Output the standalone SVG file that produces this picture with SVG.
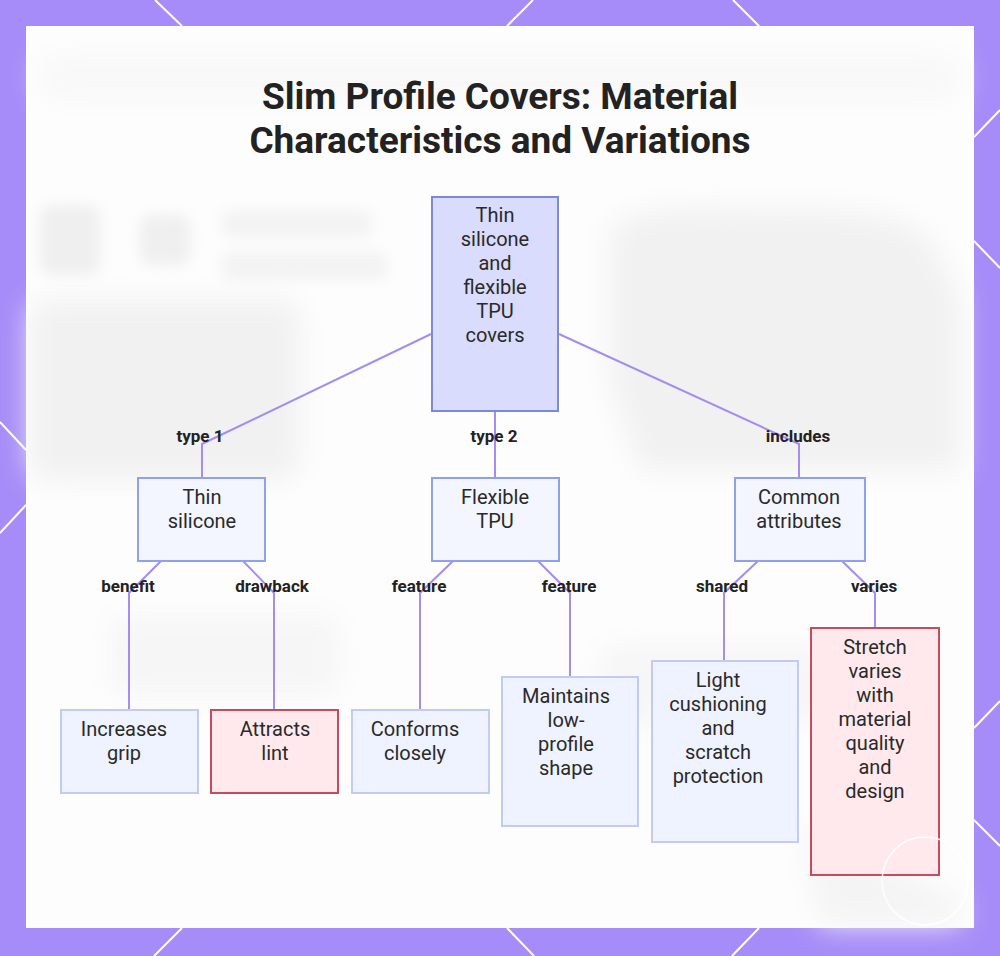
<svg xmlns="http://www.w3.org/2000/svg" width="1000" height="956" viewBox="0 0 1000 956">
  <defs>
    <filter id="blur" x="-30%" y="-30%" width="160%" height="160%">
      <feGaussianBlur stdDeviation="14"/>
    </filter>
    <filter id="blur2" x="-30%" y="-30%" width="160%" height="160%">
      <feGaussianBlur stdDeviation="7"/>
    </filter>
    <style>
      .frame-line { stroke: #ffffff; stroke-width: 2; fill: none; }
      .title { font-family: Roboto, "Liberation Sans", sans-serif; font-weight: 700; font-size: 37px; fill: #222222; text-anchor: middle; }
      .node-main rect { fill: #d9dcfc; stroke: #7c88d8; stroke-width: 2; }
      .node-mid rect { fill: #f3f5ff; stroke: #8fa0ec; stroke-width: 2; }
      .node-leaf rect { fill: #eff2ff; stroke: #c3cbf4; stroke-width: 2; }
      .node-warn rect { fill: #ffe9ed; stroke: #c84a5c; stroke-width: 2; }
      .node text { font-family: Roboto, "Liberation Sans", sans-serif; font-size: 20px; fill: #2a2a2a; text-anchor: middle; dominant-baseline: central; }
      .edge { stroke: #a58df0; stroke-width: 2; fill: none; }
      .elabel { font-family: Roboto, "Liberation Sans", sans-serif; font-weight: 700; font-size: 17px; fill: #222222; text-anchor: middle; dominant-baseline: central; }
    </style>
  </defs>

  <!-- purple frame -->
  <rect x="0" y="0" width="1000" height="956" fill="#a68cf8"/>
  <g id="frame-lines" class="frame-line">
    <line x1="155" y1="0" x2="182" y2="26"/>
    <line x1="533" y1="0" x2="507" y2="26"/>
    <line x1="733" y1="0" x2="759" y2="26"/>
    <line x1="182" y1="928" x2="154" y2="956"/>
    <line x1="507" y1="928" x2="534" y2="956"/>
    <line x1="759" y1="928" x2="732" y2="956"/>
    <line x1="0" y1="422" x2="26" y2="450"/>
    <line x1="26" y1="505" x2="0" y2="533"/>
    <line x1="974" y1="137" x2="1000" y2="110"/>
    <line x1="974" y1="241" x2="1000" y2="268"/>
    <line x1="974" y1="728" x2="1000" y2="701"/>
    <line x1="974" y1="820" x2="1000" y2="846"/>
  </g>

  <!-- panel -->
  <rect x="26" y="26" width="948" height="902" fill="#fdfdfd"/>
  <g id="background-blur" fill="#f1f1f1">
    <rect x="40" y="55" width="920" height="45" rx="20" fill="#f8f8f8" filter="url(#blur)"/>
    <rect x="30" y="300" width="270" height="180" rx="20" filter="url(#blur)"/>
    <rect x="40" y="205" width="60" height="70" rx="10" fill="#efefef" filter="url(#blur2)"/>
    <rect x="140" y="215" width="50" height="50" rx="10" fill="#efefef" filter="url(#blur2)"/>
    <rect x="222" y="210" width="150" height="28" rx="8" fill="#f3f3f3" filter="url(#blur2)"/>
    <rect x="222" y="252" width="165" height="28" rx="8" fill="#f3f3f3" filter="url(#blur2)"/>
    <path d="M610 230 Q640 200 760 210 Q900 205 930 240 L960 300 L960 470 L640 470 L610 380 Z" filter="url(#blur)"/>
    <rect x="110" y="615" width="230" height="80" rx="15" fill="#f6f6f6" filter="url(#blur)"/>
    <rect x="600" y="645" width="240" height="80" rx="15" fill="#f6f6f6" filter="url(#blur)"/>
    <path d="M800 820 Q880 860 960 900 L960 925 L820 925 Z" fill="#f4f4f4" filter="url(#blur)"/>
  </g>

  <!-- title -->
  <g id="title">
    <text class="title" x="500" y="108.5">Slim Profile Covers: Material</text>
    <text class="title" x="500" y="152.5">Characteristics and Variations</text>
  </g>

  <!-- connectors -->
  <g id="connectors">
    <polyline class="edge" points="431,334 202,444 202,477"/>
    <polyline class="edge" points="495,411 495,477"/>
    <polyline class="edge" points="559,334 799,444 799,477"/>
    <polyline class="edge" points="161,561 129,593 129,709"/>
    <polyline class="edge" points="243,561 274,593 274,709"/>
    <polyline class="edge" points="453,561 420,593 420,709"/>
    <polyline class="edge" points="538,561 570,593 570,677"/>
    <polyline class="edge" points="758,561 724,593 724,661"/>
    <polyline class="edge" points="842,561 875,593 875,628"/>
    <text class="elabel" x="200" y="436">type 1</text>
    <text class="elabel" x="494" y="436">type 2</text>
    <text class="elabel" x="798" y="436">includes</text>
    <text class="elabel" x="128" y="586">benefit</text>
    <text class="elabel" x="272" y="586">drawback</text>
    <text class="elabel" x="419" y="586">feature</text>
    <text class="elabel" x="569" y="586">feature</text>
    <text class="elabel" x="722" y="586">shared</text>
    <text class="elabel" x="874" y="586">varies</text>
  </g>

  <!-- nodes -->
  <g id="node-root" class="node node-main">
    <rect x="432" y="197" width="126" height="214"/>
    <text x="495" y="215">Thin</text>
    <text x="495" y="239">silicone</text>
    <text x="495" y="263">and</text>
    <text x="495" y="287">flexible</text>
    <text x="495" y="311">TPU</text>
    <text x="495" y="335">covers</text>
  </g>
  <g id="node-thin-silicone" class="node node-mid">
    <rect x="138" y="478" width="127" height="83"/>
    <text x="202" y="497">Thin</text>
    <text x="202" y="521">silicone</text>
  </g>
  <g id="node-flexible-tpu" class="node node-mid">
    <rect x="432" y="478" width="127" height="83"/>
    <text x="495" y="497">Flexible</text>
    <text x="495" y="521">TPU</text>
  </g>
  <g id="node-common" class="node node-mid">
    <rect x="735" y="478" width="130" height="83"/>
    <text x="799" y="497">Common</text>
    <text x="799" y="521">attributes</text>
  </g>
  <g id="node-grip" class="node node-leaf">
    <rect x="61" y="710" width="137" height="83"/>
    <text x="124" y="729">Increases</text>
    <text x="124" y="753">grip</text>
  </g>
  <g id="node-lint" class="node node-warn">
    <rect x="211" y="710" width="127" height="83"/>
    <text x="275" y="729">Attracts</text>
    <text x="275" y="753">lint</text>
  </g>
  <g id="node-conforms" class="node node-leaf">
    <rect x="352" y="710" width="137" height="83"/>
    <text x="415" y="729">Conforms</text>
    <text x="415" y="753">closely</text>
  </g>
  <g id="node-maintains" class="node node-leaf">
    <rect x="502" y="677" width="136" height="149"/>
    <text x="566" y="696">Maintains</text>
    <text x="566" y="720">low-</text>
    <text x="566" y="744">profile</text>
    <text x="566" y="768">shape</text>
  </g>
  <g id="node-light" class="node node-leaf">
    <rect x="652" y="661" width="146" height="181"/>
    <text x="718" y="680">Light</text>
    <text x="718" y="704">cushioning</text>
    <text x="718" y="728">and</text>
    <text x="718" y="752">scratch</text>
    <text x="718" y="776">protection</text>
  </g>
  <g id="node-stretch" class="node node-warn">
    <rect x="811" y="628" width="128" height="247"/>
    <text x="875" y="647">Stretch</text>
    <text x="875" y="671">varies</text>
    <text x="875" y="695">with</text>
    <text x="875" y="719">material</text>
    <text x="875" y="743">quality</text>
    <text x="875" y="767">and</text>
    <text x="875" y="791">design</text>
  </g>

  <!-- watermark ring -->
  <ellipse cx="925" cy="881" rx="43" ry="44" fill="none" stroke="#ffffff" stroke-width="1.5" opacity="0.9"/>
</svg>
